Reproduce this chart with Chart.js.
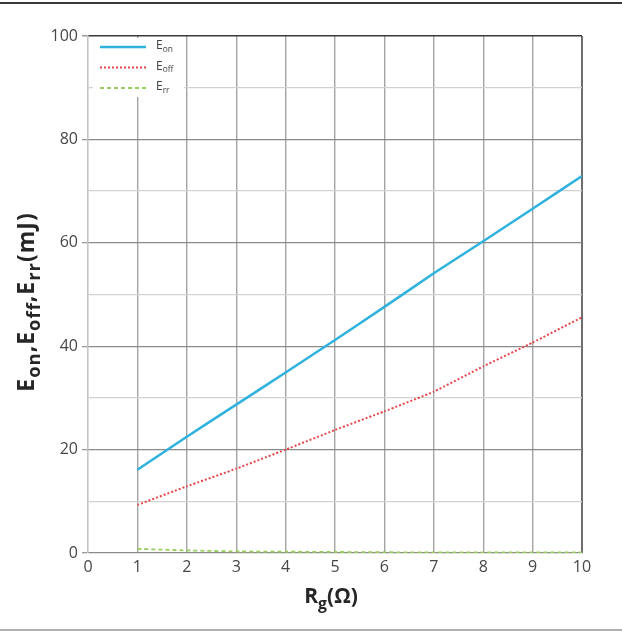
<!DOCTYPE html>
<html>
<head>
<meta charset="utf-8">
<script src="https://cdn.jsdelivr.net/npm/chart.js@4.4.1/dist/chart.umd.min.js"></script>
<style>
  html, body { margin: 0; padding: 0; background: #fff; }
  #wrap { position: relative; width: 622px; height: 634px; }
  #topRule { position: absolute; left: 0; top: 2px; width: 622px; height: 2px; background: #3a3a3a; }
  #bottomRule { position: absolute; left: 0; top: 629px; width: 622px; height: 2px; background: #b0b0b0; }
  canvas { position: absolute; left: 0; top: 0; }
</style>
</head>
<body>
<div id="wrap">
  <div id="topRule"></div>
  <canvas id="lossChart" width="622" height="634"></canvas>
  <div id="bottomRule"></div>
</div>
<script>
// gate resistance (ohm)
const rg = [1, 2, 3, 4, 5, 6, 7, 8, 9, 10];
// switching energies (mJ)
const eOn  = [16.1, 22.5, 28.7, 34.9, 41.2, 47.6, 54.1, 60.3, 66.6, 72.9];
const eOff = [9.3, 12.9, 16.3, 20.0, 23.8, 27.4, 31.2, 36.1, 40.7, 45.6];
const eRr  = [0.8, 0.5, 0.3, 0.25, 0.2, 0.15, 0.1, 0.1, 0.1, 0.1];

const toPoints = ys => ys.map((y, i) => ({ x: rg[i], y: y }));

const tickFont = { family: "'Open Sans', sans-serif", size: 16 };

// draws text made of [string, isSubscript] pieces, left aligned or centred on x
function drawRich(ctx, parts, x, y, size, weight, align, subScale) {
    subScale = subScale || 0.7;
    const fontFor = p => weight + ' ' + (p[1] ? size * subScale : size) + "px 'Open Sans', sans-serif";
    const total = parts.reduce((w, p) => {
        ctx.font = fontFor(p);
        return w + ctx.measureText(p[0]).width;
    }, 0);
    let cx = align === 'left' ? x : x - total / 2;
    parts.forEach(p => {
        ctx.font = fontFor(p);
        ctx.fillText(p[0], cx, p[1] ? y + size * 0.28 : y);
        cx += ctx.measureText(p[0]).width;
    });
}

const series = [
    { parts: [['E', false], ['on', true]],  color: '#2fb2de', dash: [],     width: 2.5 },
    { parts: [['E', false], ['off', true]], color: '#e5474b', dash: [2, 2], width: 2 },
    { parts: [['E', false], ['rr', true]],  color: '#98cf5a', dash: [4, 3], width: 1.8 }
];

const decorations = {
    id: 'decorations',
    afterDatasetsDraw(chart) {
        const ctx = chart.ctx;
        ctx.save();
        // legend box
        ctx.fillStyle = '#fff';
        ctx.fillRect(93, 38, 91, 59);
        series.forEach((s, i) => {
            const y = 47 + i * 20.5;
            ctx.strokeStyle = s.color;
            ctx.lineWidth = s.width;
            ctx.setLineDash(s.dash);
            ctx.beginPath();
            ctx.moveTo(100, y);
            ctx.lineTo(146, y);
            ctx.stroke();
            ctx.setLineDash([]);
            ctx.fillStyle = '#404040';
            ctx.textBaseline = 'middle';
            drawRich(ctx, s.parts, 156, y - 1, 12, 'normal', 'left');
        });

        // axis titles
        ctx.fillStyle = '#262626';
        ctx.textBaseline = 'alphabetic';
        drawRich(ctx, [['R', false], ['g', true], ['(Ω)', false]], 331, 603, 21, 'bold', 'center', 0.75);

        ctx.translate(34, 302);
        ctx.rotate(-Math.PI / 2);
        ctx.letterSpacing = '1px';
        drawRich(ctx, [['E', false], ['on', true], [',E', false], ['off', true], [',E', false], ['rr', true], ['(mJ)', false]],
            0, 0, 23, 'bold', 'center', 0.8);
        ctx.restore();
    }
};

new Chart(document.getElementById('lossChart').getContext('2d'), {
    type: 'line',
    data: {
        datasets: series.map((s, i) => ({
            label: s.parts.map(p => p[0]).join(''),
            data: toPoints([eOn, eOff, eRr][i]),
            borderColor: s.color,
            borderWidth: s.width,
            borderDash: s.dash,
            pointRadius: 0,
            tension: 0.1,
            fill: false
        }))
    },
    options: {
        responsive: false,
        animation: false,
        layout: { padding: { top: 36, right: 40, left: 0, bottom: 0 } },
        plugins: {
            legend: { display: false },
            tooltip: { enabled: false }
        },
        scales: {
            x: {
                type: 'linear',
                min: 0,
                max: 10,
                afterFit: scale => { scale.height = 81; },
                ticks: { stepSize: 1, color: '#474747', font: tickFont, padding: 5 },
                grid: {
                    drawTicks: false,
                    color: c => c.tick.value === 10 ? '#6e6e6e' : (c.tick.value === 0 ? '#c4c4c4' : '#a4a4a4'),
                    lineWidth: c => c.tick.value === 10 ? 2 : 1.4
                },
                border: { display: false }
            },
            y: {
                min: 0,
                max: 100,
                afterFit: scale => { scale.width = 88; },
                ticks: {
                    stepSize: 10,
                    color: '#474747',
                    font: tickFont,
                    padding: 4,
                    callback: v => v % 20 === 0 ? v : ''
                },
                grid: {
                    tickLength: 6,
                    color: c => {
                        const v = c.tick.value;
                        if (v === 100) return '#3a3a3a';
                        if (v === 0) return '#8c8c8c';
                        return v % 20 === 0 ? '#8a8a8a' : '#d2d2d2';
                    },
                    tickColor: c => c.tick.value % 20 === 0 ? '#9a9a9a' : 'rgba(0,0,0,0)',
                    lineWidth: c => c.tick.value === 100 ? 1.5 : 1.3
                },
                border: { display: true, color: '#c4c4c4', width: 1.3 }
            }
        }
    },
    plugins: [decorations]
});
</script>
</body>
</html>
